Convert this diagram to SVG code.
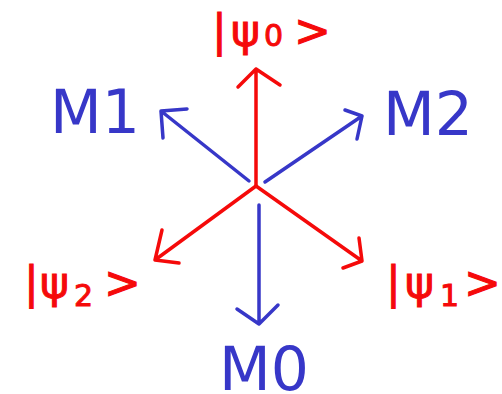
<svg xmlns="http://www.w3.org/2000/svg" width="502" height="394" viewBox="0 0 502 394">
<style>
.r{stroke:#f50a0a;stroke-width:3.5;fill:none;stroke-linecap:round;stroke-linejoin:round}
.b{stroke:#3737c8;stroke-width:3.5;fill:none;stroke-linecap:round;stroke-linejoin:round}
.m{font-family:"DejaVu Sans",sans-serif;font-size:60px;fill:#3737c8}
.k{font-family:"DejaVu Sans",sans-serif;font-size:44px;fill:#f50a0a;stroke:#f50a0a;stroke-width:1}
.s{font-size:30px}
</style>
<g id="connectors">
<path class="r" d="M256,186 L256,69 M238,87 L256,69 L280,85"/>
<path class="r" d="M256,186 L155,260 M162,230 L155,260 L179,263"/>
<path class="r" d="M256,186 L362,261 M359,238 L362,261 L343,268"/>
<path class="b" d="M249,181 L161,111 M187,109 L161,111 L163,138"/>
<path class="b" d="M265,182 L362,116 M345,110 L362,116 L357,139"/>
<path class="b" d="M259,205 L259,324 M237,309 L259,324 L278,305"/>
</g>
<g id="M1"><text class="m" x="50" y="133">M1</text></g>
<g id="M2"><text class="m" x="383" y="135">M2</text></g>
<g id="M0"><text class="m" x="219" y="390">M0</text></g>
<g id="psi0"><text class="k" y="46"><tspan x="212">|</tspan><tspan x="231">ψ</tspan><tspan class="s" x="264" y="46">0</tspan><tspan x="294" y="46">&gt;</tspan></text></g>
<g id="psi2"><text class="k" y="298"><tspan x="24">|</tspan><tspan x="40">ψ</tspan><tspan class="s" x="74" y="306">2</tspan><tspan x="104" y="298">&gt;</tspan></text></g>
<g id="psi1"><text class="k" y="298"><tspan x="386">|</tspan><tspan x="405">ψ</tspan><tspan class="s" x="440" y="306">1</tspan><tspan x="464" y="298">&gt;</tspan></text></g>
</svg>
